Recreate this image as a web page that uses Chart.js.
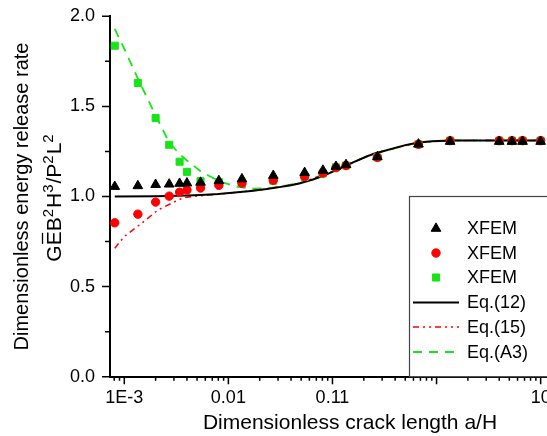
<!DOCTYPE html>
<html>
<head>
<meta charset="utf-8">
<script src="https://cdn.jsdelivr.net/npm/chart.js@4.4.1/dist/chart.umd.min.js"></script>
<style>
  html, body { margin: 0; padding: 0; background: #fff; overflow: hidden; }
  #wrap { width: 547px; height: 436px; overflow: hidden; }
</style>
</head>
<body>
<div id="wrap"><canvas id="gChart" width="600" height="436"></canvas></div>
<script>
// crack lengths a/H where XFEM was evaluated
const xfemX = [0.00081, 0.00135, 0.002, 0.0027, 0.0034, 0.004, 0.0054, 0.0081, 0.0135, 0.027,
  0.054, 0.081, 0.108, 0.135, 0.27, 0.67, 1.35, 4.0, 5.3, 6.7, 10]
const xfemTri = [1.055, 1.059, 1.066, 1.068, 1.072, 1.074, 1.078, 1.087, 1.097, 1.116,
  1.132, 1.145, 1.166, 1.176, 1.22, 1.29, 1.305, 1.305, 1.305, 1.305, 1.305]
const xfemCircle = [0.854, 0.902, 0.969, 1.002, 1.024, 1.036, 1.047, 1.062, 1.074, 1.09,
  1.111, 1.13, 1.16, 1.172, 1.217, 1.29, 1.31, 1.31, 1.31, 1.31, 1.31]
const xfemSquare = [1.837, 1.63, 1.435, 1.287, 1.193, 1.137, 1.085, 1.08, 1.07, 1.088,
  1.108, 1.128, 1.162, 1.172, 1.217, 1.29, 1.31, 1.31, 1.31, 1.31, 1.31]

// Eq.(12)
const eq12X = [0.00081, 0.002, 0.004, 0.0054, 0.008, 0.0115, 0.0165, 0.0233, 0.031, 0.04, 0.0488,
  0.065, 0.083, 0.102, 0.12, 0.137, 0.17, 0.213, 0.25, 0.3, 0.4, 0.5, 0.67, 0.9, 1.35, 10]
const eq12Y = [1.0, 1.001, 1.005, 1.008, 1.014, 1.022, 1.031, 1.041, 1.052, 1.063, 1.074,
  1.094, 1.116, 1.139, 1.158, 1.174, 1.198, 1.222, 1.238, 1.25, 1.27, 1.285, 1.3, 1.307, 1.311, 1.311]

// Eq.(15)
const eq15X = [0.00081, 0.001, 0.00147, 0.00212, 0.00285, 0.0037, 0.0048, 0.0065, 0.01, 0.0233,
  0.0488, 0.102, 0.213, 0.3, 0.67, 1.35, 10]
const eq15Y = [0.713, 0.778, 0.852, 0.926, 0.963, 0.993, 1.002, 1.008, 1.018, 1.041,
  1.074, 1.139, 1.222, 1.25, 1.3, 1.311, 1.311]

// Eq.(A3)
const eqA3X = [0.00081, 0.001, 0.00136, 0.002, 0.0027, 0.0034, 0.004, 0.0054, 0.0081, 0.0115,
  0.017, 0.025, 0.035, 0.0488, 0.102, 0.213, 0.3, 0.67, 1.35, 10]
const eqA3Y = [1.93, 1.82, 1.65, 1.45, 1.3, 1.235, 1.2, 1.14, 1.085, 1.057,
  1.043, 1.046, 1.06, 1.075, 1.14, 1.222, 1.25, 1.3, 1.311, 1.311]

const xMajorTicks = [0.001, 0.01, 0.1, 1, 10]
const xTickLabels = ["1E-3", "0.01", "0.11", "", "10"]
const yMajorTicks = [0, 0.5, 1, 1.5, 2]
const yTickLabels = ["0.0", "0.5", "1.0", "1.5", "2.0"]
const yMinorTicks = [0.25, 0.75, 1.25, 1.75]

const FONT = "'Liberation Sans', Arial, sans-serif"
const GREEN = "rgb(24, 228, 24)"
const RED = "rgb(255, 0, 0)"

const pts = (xs, ys) => xs.map((x, i) => ({ x: x, y: ys[i] }))

// tick marks drawn by hand so majors and minors get different lengths
const tickMarks = {
  id: "tickMarks",
  afterDraw(chart) {
    const ctx = chart.ctx
    const xs = chart.scales.x
    const ys = chart.scales.y
    const bottom = chart.chartArea.bottom
    const left = chart.chartArea.left
    ctx.save()
    ctx.strokeStyle = "#000"
    ctx.lineWidth = 1.5
    ctx.beginPath()
    for (let e = -4; e <= 1; e++) {
      for (let m = 1; m <= 9; m++) {
        const v = m * Math.pow(10, e)
        if (v < xs.min || v > xs.max) continue
        const px = xs.getPixelForValue(v)
        ctx.moveTo(px, bottom)
        ctx.lineTo(px, bottom + (m === 1 ? 7.5 : 4))
      }
    }
    yMajorTicks.forEach((v) => {
      const py = ys.getPixelForValue(v)
      ctx.moveTo(left, py)
      ctx.lineTo(left - 8, py)
    })
    yMinorTicks.forEach((v) => {
      const py = ys.getPixelForValue(v)
      ctx.moveTo(left, py)
      ctx.lineTo(left - 5, py)
    })
    ctx.stroke()
    ctx.restore()
  },
}

// second line of the y title: G with E-bar, B, H, P, L and raised exponents
const yTitleParts = [
  ["G", false], ["E", false, true], ["B", false], ["2", true], ["H", false], ["3", true],
  ["/P", false], ["2", true], ["L", false], ["2", true],
]
const yTitleLine2 = {
  id: "yTitleLine2",
  afterDraw(chart) {
    const ctx = chart.ctx
    const base = "21px " + FONT
    const sup = "15px " + FONT
    const cy = (chart.chartArea.top + chart.chartArea.bottom) / 2 + 1
    ctx.save()
    let total = 0
    yTitleParts.forEach((p) => {
      ctx.font = p[1] ? sup : base
      total += ctx.measureText(p[0]).width + (p[1] ? 1 : 0)
    })
    ctx.translate(61, cy)
    ctx.rotate(-Math.PI / 2)
    ctx.fillStyle = "#000"
    ctx.strokeStyle = "#000"
    ctx.textBaseline = "alphabetic"
    ctx.textAlign = "left"
    let x = -total / 2
    yTitleParts.forEach((p) => {
      ctx.font = p[1] ? sup : base
      const w = ctx.measureText(p[0]).width
      ctx.fillText(p[0], x, p[1] ? -8 : 0)
      if (p[2]) {
        ctx.lineWidth = 1.3
        ctx.beginPath()
        ctx.moveTo(x + 1.5, -18.5)
        ctx.lineTo(x + w - 1.5, -18.5)
        ctx.stroke()
      }
      x += w + (p[1] ? 1 : 0)
    })
    ctx.restore()
  },
}

// boxed legend sitting on the x axis
const boxLegend = {
  id: "boxLegend",
  afterDraw(chart) {
    const ctx = chart.ctx
    const bx = 409.5
    const by = 196.5
    const bottom = chart.chartArea.bottom
    ctx.save()
    ctx.fillStyle = "#fff"
    ctx.fillRect(bx, by, 300, bottom - by)
    ctx.strokeStyle = "#444"
    ctx.lineWidth = 1.2
    ctx.strokeRect(bx, by, 300, bottom - by)

    const rowY = [228.5, 253, 277.5, 302.5, 327, 352]
    chart.data.datasets.forEach((ds, i) => {
      const y = rowY[i]
      if (ds.showLine === false) {
        ctx.fillStyle = ds.pointBackgroundColor
        ctx.strokeStyle = ds.pointBorderColor
        ctx.lineWidth = ds.pointBorderWidth
        ctx.setLineDash([])
        Chart.helpers.drawPoint(ctx, {
          pointStyle: ds.pointStyle,
          radius: ds.pointRadius,
          rotation: 0,
          borderWidth: ds.pointBorderWidth,
        }, 436, y)
      } else {
        ctx.beginPath()
        ctx.setLineDash(ds.borderDash || [])
        ctx.strokeStyle = ds.borderColor
        ctx.lineWidth = ds.borderWidth
        ctx.moveTo(413, y)
        ctx.lineTo(459, y)
        ctx.stroke()
        ctx.setLineDash([])
      }
      ctx.fillStyle = "#000"
      ctx.font = "18px " + FONT
      ctx.textAlign = "left"
      ctx.textBaseline = "middle"
      ctx.fillText(ds.label, 467, y + 1)
    })
    ctx.restore()
  },
}

const markerDs = (label, ys, style, radius, color, order) => ({
  label: label,
  data: pts(xfemX, ys),
  showLine: false,
  pointStyle: style,
  pointRadius: radius,
  pointBorderWidth: 1,
  backgroundColor: color,
  borderColor: color,
  pointBackgroundColor: color,
  pointBorderColor: color,
  order: order,
})

const lineDs = (label, xs, ys, color, width, dash, order) => ({
  label: label,
  data: pts(xs, ys),
  borderColor: color,
  borderWidth: width,
  borderDash: dash,
  pointRadius: 0,
  tension: 0,
  fill: false,
  order: order,
})

new Chart(document.getElementById("gChart"), {
  type: "line",
  data: {
    datasets: [
      markerDs("XFEM", xfemTri, "triangle", 5.6, "#000", 0),
      markerDs("XFEM", xfemCircle, "circle", 4.2, RED, 1),
      markerDs("XFEM", xfemSquare, "rect", 5, GREEN, 2),
      lineDs("Eq.(12)", eq12X, eq12Y, "#000", 2, [], 3),
      lineDs("Eq.(15)", eq15X, eq15Y, RED, 1.5, [6, 4, 2, 4, 2, 4], 4),
      lineDs("Eq.(A3)", eqA3X, eqA3Y, GREEN, 1.8, [9, 7], 5),
    ],
  },
  options: {
    responsive: false,
    devicePixelRatio: 1,
    animation: false,
    layout: { autoPadding: false, padding: { top: 16.3, right: 10, left: 0, bottom: 0 } },
    plugins: { legend: { display: false }, tooltip: { enabled: false } },
    scales: {
      x: {
        type: "logarithmic",
        min: 7.29e-4,
        max: 29.8,
        grid: { display: false, drawTicks: false },
        border: { display: true, color: "#000", width: 2 },
        afterBuildTicks: (s) => {
          s.ticks = xMajorTicks.map((v) => ({ value: v }))
        },
        afterFit: (s) => {
          s.height = 59.3
        },
        ticks: {
          color: "#000",
          font: { size: 18, family: FONT },
          padding: 10.8,
          autoSkip: false,
          maxRotation: 0,
          callback: (v, i) => xTickLabels[i],
        },
        title: {
          display: true,
          text: "Dimensionless crack length a/H",
          color: "#000",
          font: { size: 21, family: FONT },
          padding: { top: 0, bottom: 0 },
        },
      },
      y: {
        min: 0,
        max: 2,
        // invisible tick space keeps labels off the axis without padding the top
        grid: {
          display: true,
          drawOnChartArea: false,
          drawTicks: true,
          tickLength: 10,
          tickColor: "rgba(0,0,0,0)",
        },
        border: { display: true, color: "#000", width: 2 },
        afterBuildTicks: (s) => {
          s.ticks = yMajorTicks.map((v) => ({ value: v }))
        },
        afterFit: (s) => {
          s.width = 110
        },
        ticks: {
          color: "#000",
          font: { size: 18, family: FONT },
          padding: 5,
          callback: (v, i) => yTickLabels[i],
        },
        title: {
          display: true,
          text: "Dimensionless energy release rate",
          color: "#000",
          font: { size: 20, family: FONT, lineHeight: 1.45 },
          padding: { top: 8, bottom: 0 },
        },
      },
    },
  },
  plugins: [tickMarks, yTitleLine2, boxLegend],
})
</script>
</body>
</html>
